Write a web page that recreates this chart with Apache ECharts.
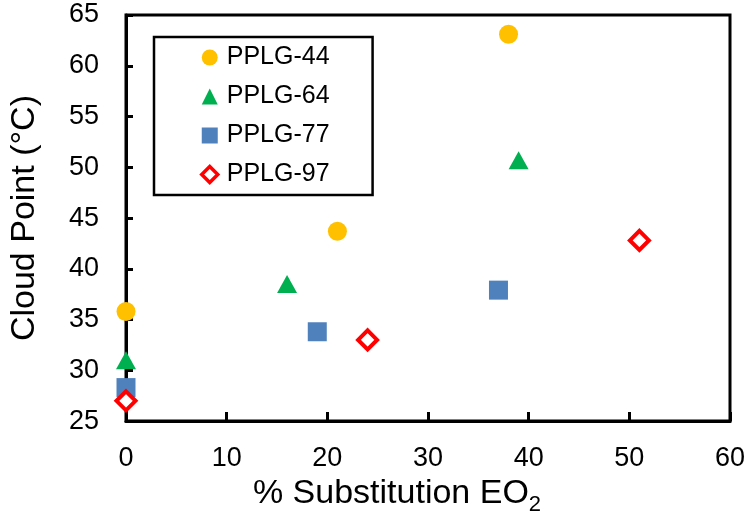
<!DOCTYPE html>
<html>
<head>
<meta charset="utf-8">
<script src="https://cdn.jsdelivr.net/npm/echarts@6/dist/echarts.min.js"></script>
<style>html,body{margin:0;padding:0;background:#fff}#c{width:750px;height:521px}</style>
</head>
<body>
<div id="c"></div>
<script>
const seriesNames = ['PPLG-44', 'PPLG-64', 'PPLG-77', 'PPLG-97'];
const pplg44 = [[0, 35.8], [21, 43.7], [38, 63.1]];
const pplg64 = [[0, 31.0], [16, 38.5], [39, 50.7]];
const pplg77 = [[0, 28.3], [19, 33.8], [37, 37.9]];
const pplg97 = [[0, 27.0], [24, 33.0], [51, 42.8]];
const xTicks = [0, 10, 20, 30, 40, 50, 60];
const yTicks = [25, 30, 35, 40, 45, 50, 55, 60, 65];

const FONT = 'Liberation Sans';
const chart = echarts.init(document.getElementById('c'), null, {renderer: 'canvas'});
chart.setOption({
  animation: false,
  backgroundColor: '#fff',
  textStyle: {fontFamily: FONT, color: '#000'},
  grid: {left: 123, right: 20, top: 15, bottom: 98, show: true, borderColor: '#000', borderWidth: 3, containLabel: false},
  legend: {
    orient: 'vertical', left: 154, top: 37,
    padding: [8, 43, 8, 46], itemGap: 14, itemWidth: 16, itemHeight: 16,
    borderColor: '#000', borderWidth: 2.5,
    textStyle: {fontFamily: FONT, fontSize: 25, color: '#000', lineHeight: 24, padding: [0, 0, 0, 4]},
    data: [
      {name: seriesNames[0]},
      {name: seriesNames[1]},
      {name: seriesNames[2]},
      {name: seriesNames[3], itemStyle: {color: '#fff', borderColor: '#FF0000', borderWidth: 3.5}}
    ]
  },
  xAxis: {
    type: 'value', min: xTicks[0], max: xTicks[xTicks.length - 1], interval: 10,
    name: '% Substitution EO{sub|2}', nameLocation: 'middle', nameGap: 41,
    nameTextStyle: {fontFamily: FONT, fontSize: 34, color: '#000', padding: [0, 62, 0, 0],
      rich: {sub: {fontFamily: FONT, fontSize: 22, color: '#000', padding: [22, 0, 0, 0]}}},
    axisLine: {show: true, lineStyle: {color: '#000', width: 3}},
    axisTick: {show: true, inside: true, length: 9, lineStyle: {color: '#000', width: 3}},
    axisLabel: {fontFamily: FONT, fontSize: 27, color: '#000', margin: 24},
    splitLine: {show: false}
  },
  yAxis: {
    type: 'value', min: yTicks[0], max: yTicks[yTicks.length - 1], interval: 5,
    name: 'Cloud Point (°C)', nameLocation: 'middle', nameGap: 84,
    nameTextStyle: {fontFamily: FONT, fontSize: 34, color: '#000'},
    axisLine: {show: true, lineStyle: {color: '#000', width: 3}},
    axisTick: {show: true, inside: true, length: 7, lineStyle: {color: '#000', width: 3}},
    axisLabel: {fontFamily: FONT, fontSize: 27, color: '#000', margin: 27},
    splitLine: {show: false}
  },
  series: [
    {name: seriesNames[0], type: 'scatter', data: pplg44, symbol: 'circle', symbolSize: 19,
     itemStyle: {color: '#FFC000', opacity: 1}},
    {name: seriesNames[1], type: 'scatter', data: pplg64, symbol: 'triangle', symbolSize: [20, 18],
     itemStyle: {color: '#00B050', opacity: 1}},
    {name: seriesNames[2], type: 'scatter', data: pplg77, symbol: 'rect', symbolSize: 19,
     itemStyle: {color: '#4F81BD', opacity: 1}},
    {name: seriesNames[3], type: 'scatter', data: pplg97, symbol: 'diamond', symbolSize: 19,
     itemStyle: {color: '#fff', borderColor: '#FF0000', borderWidth: 4, opacity: 1}}
  ]
});
</script>
</body>
</html>
